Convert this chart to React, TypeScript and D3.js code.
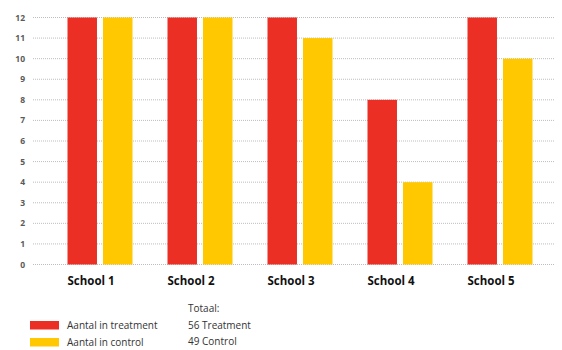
import { useRef, useEffect } from "react";
import * as d3 from "d3";

const schools = ["School 1", "School 2", "School 3", "School 4", "School 5"];
const seriesKeys = ["treatment", "control"];
const treatment = [12, 12, 12, 8, 12];
const control = [12, 12, 11, 4, 10];
const yTicks = [0, 1, 2, 3, 4, 5, 6, 7, 8, 9, 10, 11, 12];
const legendLabels = ["Aantal in treatment", "Aantal in control"];
const totalLines = ["Totaal:", "56 Treatment", "49 Control"];

const colors: Record<string, string> = { treatment: "#EB2F25", control: "#FFC800" };
const font = "'Open Sans', 'Liberation Sans', sans-serif";

export default function App() {
  const svgRef = useRef<SVGSVGElement | null>(null);

  useEffect(() => {
    const width = 562;
    const height = 350;
    const svg = d3.select(svgRef.current);
    svg.selectAll("*").remove();
    svg.attr("width", width).attr("height", height);

    const y = d3.scaleLinear().domain([0, 12]).range([264.5, 17.5]);
    const x0 = d3
      .scaleBand<string>()
      .domain(schools)
      .range([50, 550])
      .paddingInner(0.35)
      .paddingOuter(0.175);
    const x1 = d3
      .scaleBand<string>()
      .domain(seriesKeys)
      .range([0, x0.bandwidth()])
      .paddingInner(0.17);

    // grid
    svg
      .append("g")
      .selectAll("line")
      .data(yTicks)
      .enter()
      .append("line")
      .attr("x1", 33)
      .attr("x2", 560)
      .attr("y1", (d) => y(d))
      .attr("y2", (d) => y(d))
      .attr("stroke", "#bdbdbd")
      .attr("stroke-width", 1)
      .attr("stroke-dasharray", "1,1");

    svg
      .append("g")
      .selectAll("text")
      .data(yTicks)
      .enter()
      .append("text")
      .attr("x", 25)
      .attr("y", (d) => y(d) + 3)
      .attr("text-anchor", "end")
      .style("font-family", font)
      .style("font-size", "8.5px")
      .style("font-weight", "700")
      .attr("fill", "#5a5a5a")
      .text((d) => d);

    const rows = schools.map((s, i) => ({
      school: s,
      values: [
        { key: "treatment", value: treatment[i] },
        { key: "control", value: control[i] },
      ],
    }));

    const groups = svg
      .append("g")
      .selectAll("g")
      .data(rows)
      .enter()
      .append("g")
      .attr("transform", (d) => `translate(${x0(d.school)},0)`);

    groups
      .selectAll("rect")
      .data((d) => d.values)
      .enter()
      .append("rect")
      .attr("x", (d) => x1(d.key)!)
      .attr("y", (d) => y(d.value))
      .attr("width", x1.bandwidth())
      .attr("height", (d) => y(0) - y(d.value))
      .attr("fill", (d) => colors[d.key]);

    groups
      .append("text")
      .attr("x", 0)
      .attr("y", 285)
      .style("font-family", font)
      .style("font-size", "11.5px")
      .style("font-weight", "700")
      .attr("fill", "#111")
      .text((d) => d.school);

    // legend
    const legend = svg
      .append("g")
      .selectAll("g")
      .data(seriesKeys)
      .enter()
      .append("g")
      .attr("transform", (_, i) => `translate(30,${321 + i * 17})`);

    legend
      .append("rect")
      .attr("width", 29)
      .attr("height", 8.5)
      .attr("fill", (d) => colors[d]);

    legend
      .append("text")
      .attr("x", 37)
      .attr("y", 7.5)
      .style("font-family", font)
      .style("font-size", "10px")
      .attr("fill", "#333")
      .text((_, i) => legendLabels[i]);

    svg
      .append("g")
      .selectAll("text")
      .data(totalLines)
      .enter()
      .append("text")
      .attr("x", 188)
      .attr("y", (_, i) => 312 + i * 16.5)
      .style("font-family", font)
      .style("font-size", "10px")
      .attr("fill", "#333")
      .text((d) => d);
  }, []);

  return (
    <div style={{ width: 562, height: 350, position: "relative" }}>
      <svg ref={svgRef} style={{ position: "absolute", top: -8, left: -8, background: "#fff" }} />
    </div>
  );
}
